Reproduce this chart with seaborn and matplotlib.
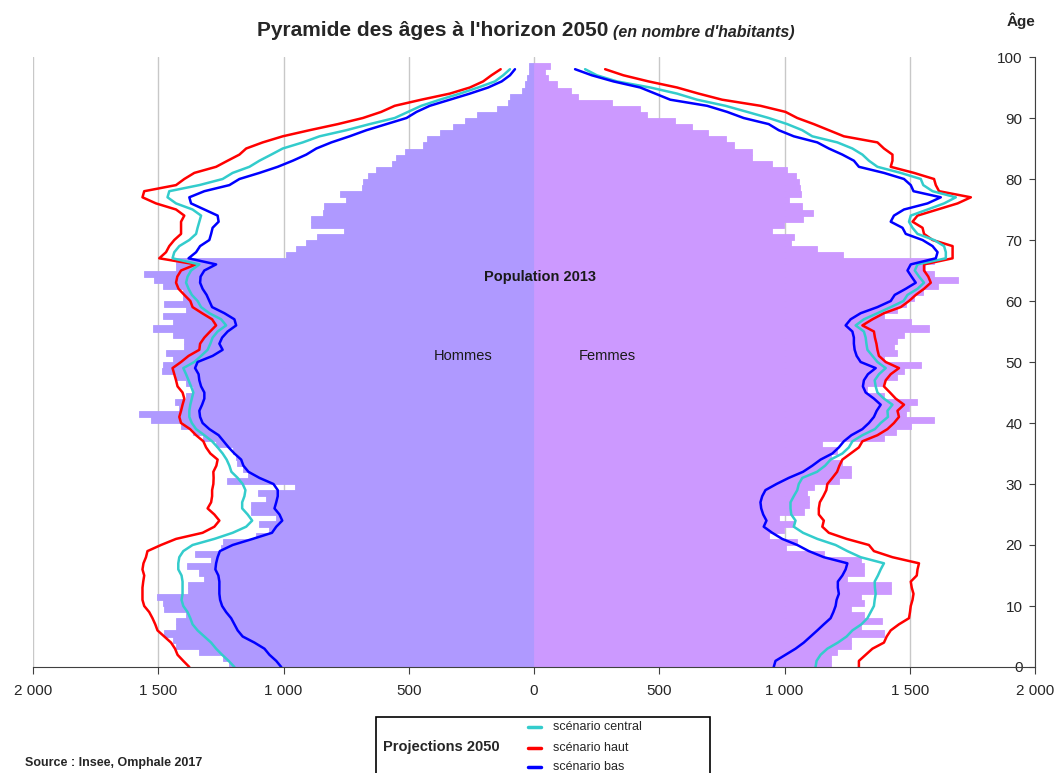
import matplotlib
matplotlib.use("Agg")
import matplotlib.pyplot as plt
import numpy as np
import pandas as pd
import seaborn as sns
from matplotlib.lines import Line2D
from matplotlib.patches import Rectangle

# ages 0..98
ages = list(range(99))

men_2013 = [
    1216, 1243, 1336, 1429, 1443, 1476, 1429, 1429, 1389, 1476,
    1483, 1503, 1383, 1383, 1316, 1339, 1387, 1289, 1353, 1249,
    1243, 1109, 1056, 1096, 1029, 1129, 1129, 1069, 1103, 956,
    1227, 1143, 1163, 1186, 1189, 1203, 1269, 1323, 1363, 1409,
    1529, 1576, 1416, 1433, 1389, 1363, 1389, 1429, 1487, 1483,
    1443, 1469, 1396, 1396, 1443, 1519, 1443, 1483, 1389, 1476,
    1403, 1400, 1483, 1516, 1556, 1429, 1429, 989, 949, 909,
    867, 759, 892, 892, 843, 839, 749, 773, 687, 683,
    663, 629, 567, 549, 513, 443, 429, 376, 323, 276,
    229, 149, 103, 96, 49, 36, 29, 20, 20,
]
women_2013 = [
    1184, 1184, 1211, 1264, 1264, 1397, 1304, 1390, 1317, 1264,
    1317, 1304, 1424, 1424, 1251, 1317, 1317, 1304, 1157, 1004,
    1051, 937, 997, 1037, 977, 1077, 1097, 1097, 1091, 1117,
    1217, 1264, 1264, 1230, 1184, 1211, 1151, 1397, 1444, 1504,
    1597, 1484, 1497, 1528, 1397, 1331, 1397, 1451, 1477, 1544,
    1397, 1451, 1437, 1451, 1477, 1577, 1504, 1397, 1451, 1484,
    1517, 1551, 1611, 1691, 1597, 1560, 1597, 1235, 1131, 1024,
    1037, 951, 997, 1075, 1115, 1071, 1017, 1064, 1061, 1057,
    1044, 1008, 951, 871, 871, 797, 768, 695, 631, 561,
    451, 424, 311, 177, 148, 91, 57, 44, 64,
]

men_central = [
    1196, 1219, 1245, 1269, 1289, 1316, 1343, 1363, 1372, 1383,
    1400, 1407, 1403, 1403, 1403, 1407, 1420, 1420, 1416, 1400,
    1363, 1276, 1203, 1149, 1125, 1143, 1165, 1165, 1156, 1152,
    1163, 1183, 1208, 1216, 1227, 1243, 1263, 1285, 1316, 1349,
    1366, 1376, 1376, 1372, 1366, 1360, 1369, 1379, 1389, 1400,
    1356, 1329, 1303, 1292, 1283, 1263, 1229, 1249, 1296, 1329,
    1343, 1366, 1379, 1389, 1383, 1369, 1336, 1443, 1436, 1416,
    1376, 1349, 1343, 1336, 1329, 1363, 1429, 1463, 1456, 1336,
    1243, 1203, 1136, 1096, 1049, 1003, 923, 856, 749, 656,
    556, 503, 450, 376, 296, 223, 156, 123, 96,
]
men_haut = [
    1376, 1400, 1423, 1433, 1449, 1476, 1503, 1512, 1523, 1536,
    1556, 1563, 1563, 1563, 1560, 1556, 1563, 1559, 1549, 1543,
    1489, 1429, 1323, 1276, 1256, 1276, 1303, 1289, 1285, 1285,
    1280, 1279, 1280, 1268, 1263, 1292, 1309, 1320, 1349, 1373,
    1409, 1416, 1409, 1403, 1396, 1403, 1423, 1429, 1436, 1443,
    1409, 1379, 1336, 1333, 1316, 1293, 1269, 1285, 1325, 1363,
    1372, 1396, 1419, 1429, 1424, 1409, 1350, 1496, 1469, 1456,
    1436, 1409, 1409, 1409, 1396, 1429, 1509, 1563, 1556, 1429,
    1396, 1356, 1269, 1223, 1176, 1149, 1083, 1003, 896, 783,
    683, 610, 556, 450, 336, 256, 203, 170, 133,
]
men_bas = [
    1009, 1029, 1056, 1076, 1116, 1163, 1183, 1196, 1209, 1229,
    1245, 1253, 1256, 1256, 1256, 1260, 1272, 1269, 1263, 1254,
    1203, 1123, 1046, 1029, 1005, 1016, 1036, 1029, 1023, 1023,
    1040, 1096, 1140, 1160, 1169, 1196, 1219, 1239, 1259, 1296,
    1323, 1333, 1336, 1325, 1316, 1316, 1329, 1336, 1339, 1353,
    1343, 1283, 1243, 1256, 1245, 1223, 1189, 1196, 1236, 1285,
    1296, 1307, 1323, 1333, 1331, 1316, 1269, 1379, 1349, 1333,
    1296, 1289, 1283, 1259, 1263, 1316, 1369, 1376, 1316, 1216,
    1176, 1096, 1023, 963, 909, 869, 809, 736, 669, 589,
    509, 469, 416, 336, 256, 183, 129, 96, 76,
]

women_central = [
    1124, 1128, 1144, 1171, 1213, 1248, 1271, 1307, 1331, 1344,
    1357, 1360, 1364, 1361, 1360, 1373, 1384, 1397, 1304, 1251,
    1204, 1131, 1074, 1037, 1044, 1027, 1024, 1024, 1037, 1051,
    1057, 1071, 1130, 1162, 1184, 1231, 1257, 1271, 1311, 1361,
    1384, 1413, 1411, 1431, 1397, 1371, 1364, 1360, 1377, 1404,
    1371, 1351, 1331, 1327, 1324, 1317, 1284, 1317, 1371, 1424,
    1475, 1491, 1531, 1557, 1537, 1520, 1531, 1644, 1644, 1637,
    1597, 1531, 1511, 1497, 1504, 1571, 1637, 1684, 1591, 1554,
    1544, 1464, 1371, 1337, 1311, 1271, 1211, 1111, 1071, 1011,
    937, 851, 764, 651, 571, 464, 331, 251, 204,
]
women_haut = [
    1297, 1297, 1324, 1351, 1397, 1408, 1424, 1457, 1497, 1501,
    1504, 1511, 1515, 1508, 1504, 1528, 1531, 1537, 1431, 1357,
    1337, 1248, 1177, 1151, 1157, 1137, 1137, 1141, 1155, 1167,
    1171, 1191, 1210, 1219, 1231, 1264, 1297, 1311, 1371, 1411,
    1437, 1457, 1451, 1477, 1444, 1421, 1397, 1404, 1424, 1457,
    1404, 1377, 1371, 1367, 1361, 1357, 1311, 1351, 1397, 1464,
    1497, 1524, 1557, 1584, 1574, 1557, 1557, 1671, 1671, 1671,
    1591, 1557, 1551, 1511, 1531, 1611, 1691, 1744, 1617, 1604,
    1597, 1517, 1424, 1431, 1431, 1397, 1371, 1237, 1177, 1117,
    1051, 1004, 904, 751, 657, 571, 457, 357, 284,
]
women_bas = [
    957, 964, 1004, 1044, 1077, 1104, 1131, 1157, 1184, 1195,
    1204, 1208, 1217, 1213, 1213, 1231, 1244, 1251, 1157, 1097,
    1051, 991, 951, 917, 928, 915, 907, 904, 911, 924,
    968, 1017, 1074, 1111, 1144, 1191, 1217, 1237, 1267, 1311,
    1337, 1357, 1368, 1384, 1357, 1324, 1313, 1317, 1333, 1364,
    1304, 1288, 1280, 1277, 1277, 1271, 1244, 1264, 1304, 1371,
    1424, 1440, 1484, 1524, 1507, 1491, 1504, 1604, 1611, 1591,
    1551, 1484, 1471, 1424, 1437, 1477, 1571, 1624, 1515, 1504,
    1477, 1397, 1297, 1277, 1231, 1177, 1131, 1037, 977, 937,
    837, 771, 691, 544, 484, 424, 317, 231, 164,
]

x_ticks = [-2000, -1500, -1000, -500, 0, 500, 1000, 1500, 2000]
y_ticks = list(range(0, 101, 10))

MEN_COLOR = "#AF99FF"
WOMEN_COLOR = "#CC99FF"
C_CENTRAL = "#33CCCC"
C_HAUT = "#FF0000"
C_BAS = "#0000FF"

sns.set_style("white")
plt.rcParams["font.family"] = ["Liberation Sans", "DejaVu Sans"]

W, H = 1058, 773
fig = plt.figure(figsize=(W / 100, H / 100), dpi=100)
ax = fig.add_axes([33 / W, 106 / H, 1002 / W, 610 / H])

df = pd.DataFrame(
    {
        "age": np.array(ages) + 0.5,
        "hommes": -np.array(men_2013),
        "femmes": np.array(women_2013),
    }
)
for col, color in [("hommes", MEN_COLOR), ("femmes", WOMEN_COLOR)]:
    sns.barplot(
        data=df, x=col, y="age", orient="y", native_scale=True, width=1,
        color=color, saturation=1, errorbar=None,
        linewidth=0.6, edgecolor=color, ax=ax,
    )

scenarios = [
    (men_haut, women_haut, C_HAUT),
    (men_central, women_central, C_CENTRAL),
    (men_bas, women_bas, C_BAS),
]
for men_vals, women_vals, color in scenarios:
    sns.lineplot(x=-np.array(men_vals), y=ages, orient="y", estimator=None,
                 color=color, linewidth=1.8, ax=ax)
    sns.lineplot(x=np.array(women_vals), y=ages, orient="y", estimator=None,
                 color=color, linewidth=1.8, ax=ax)

ax.set_xlim(-2000, 2000)
ax.set_ylim(0, 100)
ax.set_xticks(x_ticks)
ax.set_xticklabels([f"{abs(v):,}".replace(",", " ") for v in x_ticks])
ax.set_yticks(y_ticks)
ax.set_xlabel("")
ax.set_ylabel("")
ax.set_axisbelow(True)
ax.grid(axis="x", color="#C8C8C8", linewidth=1)
ax.grid(axis="y", visible=False)

for s in ["top", "right"]:
    ax.spines[s].set_visible(False)
ax.spines["left"].set_position(("data", 2000))
ax.spines["left"].set_color("#404040")
ax.spines["bottom"].set_color("#404040")
ax.tick_params(axis="x", direction="out", length=5, color="#404040",
               labelsize=11, pad=7, bottom=True)
ax.tick_params(axis="y", direction="out", length=4, color="#404040",
               labelsize=11, pad=5, left=True)

ax.text(25, 64, "Population 2013", ha="center", va="center",
        fontsize=10.5, fontweight="bold", color="#1a1a1a")
ax.text(-284, 51, "Hommes", ha="center", va="center", fontsize=10.5, color="#1a1a1a")
ax.text(292, 51, "Femmes", ha="center", va="center", fontsize=10.5, color="#1a1a1a")

fig.text(608 / W, 1 - 31 / H, "Pyramide des âges à l'horizon 2050", ha="right",
         va="center", fontsize=15, fontweight="bold")
fig.text(613 / W, 1 - 32 / H, "(en nombre d'habitants)", ha="left",
         va="center", fontsize=11.5, fontstyle="italic", fontweight="bold")
fig.text(1021 / W, 1 - 21 / H, "Âge", ha="center", va="center",
         fontsize=11, fontweight="bold")
fig.text(25 / W, 1 - 763 / H, "Source : Insee, Omphale 2017", ha="left",
         va="center", fontsize=9, fontweight="bold")

# legend box
fig.add_artist(Rectangle((376 / W, -0.01), (710 - 376) / W, 0.01 + (773 - 717) / H,
                         transform=fig.transFigure, facecolor="white",
                         edgecolor="black", linewidth=1.2))
fig.text(383 / W, 1 - 747 / H, "Projections 2050", ha="left", va="center",
         fontsize=10.5, fontweight="bold")
for y, label, color in [(727, "scénario central", C_CENTRAL),
                        (748, "scénario haut", C_HAUT),
                        (767, "scénario bas", C_BAS)]:
    fig.add_artist(Line2D([528 / W, 541 / W], [1 - y / H, 1 - y / H],
                          transform=fig.transFigure, color=color, linewidth=2.5))
    fig.text(553 / W, 1 - y / H, label, ha="left", va="center", fontsize=9)

fig.savefig("out.png", dpi=100)
